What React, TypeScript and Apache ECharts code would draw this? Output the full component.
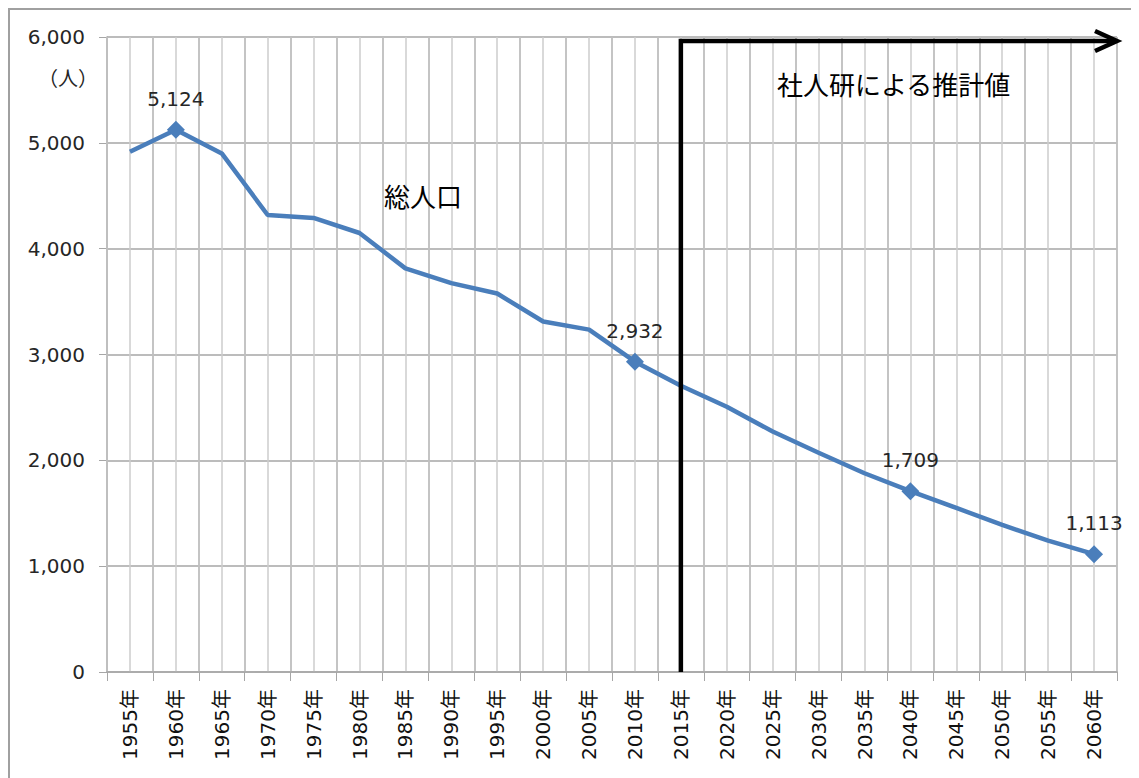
import React, { useEffect, useRef } from "react";
import * as echarts from "echarts";

const years = [
  "1955年", "1960年", "1965年", "1970年", "1975年", "1980年", "1985年", "1990年",
  "1995年", "2000年", "2005年", "2010年", "2015年", "2020年", "2025年", "2030年",
  "2035年", "2040年", "2045年", "2050年", "2055年", "2060年",
];
const population = [
  4915, 5124, 4900, 4318, 4290, 4148, 3814, 3674, 3576, 3312, 3235, 2932,
  2705, 2507, 2272, 2072, 1878, 1709, 1550, 1390, 1242, 1113,
];
const labeledYears = ["1960年", "2010年", "2040年", "2060年"];
const projectionStart = "2015年";
const yMin = 0;
const yMax = 6000;
const yInterval = 1000;
const unitLabel = "（人）";
const seriesLabel = "総人口";
const projectionLabel = "社人研による推計値";

const NUM_FONT = "'DejaVu Sans', 'Noto Sans CJK JP', sans-serif";
const JP_FONT = "'Noto Sans CJK JP', sans-serif";

const fmt = (v: number) => v.toLocaleString("en-US");

export default function App() {
  const ref = useRef<HTMLDivElement>(null);

  useEffect(() => {
    if (!ref.current) return;
    document.documentElement.style.overflow = "hidden";
    const chart = echarts.init(ref.current, null, { renderer: "svg" });
    const data = population.map((v, i) =>
      labeledYears.includes(years[i])
        ? {
            value: v,
            symbol: "diamond",
            symbolSize: 18,
            label: {
              show: true,
              position: "top",
              distance: 12,
              formatter: (p: any) => fmt(p.value),
              fontSize: 20,
              fontFamily: NUM_FONT,
              color: "#262626",
            },
          }
        : { value: v, symbol: "none" }
    );
    chart.setOption({
      animation: false,
      backgroundColor: "#ffffff",
      grid: { left: 97, right: 14, top: 27, bottom: 106, containLabel: false },
      xAxis: [
        {
          type: "category",
          data: years,
          boundaryGap: true,
          axisLine: { show: true, lineStyle: { color: "#a6a6a6", width: 1.5 } },
          axisTick: { show: true, interval: 0, length: 9, lineStyle: { color: "#a6a6a6" } },
          splitLine: { show: true, interval: 0, lineStyle: { color: "#bdbdbd", width: 1.5 } },
          axisLabel: {
            interval: 0,
            rotate: 90,
            margin: 17,
            fontSize: 20,
            fontFamily: NUM_FONT,
            color: "#111111",
          },
          z: 3,
        },
        {
          type: "value",
          min: 0,
          max: 22,
          interval: 0.5,
          position: "bottom",
          axisLine: { show: false },
          axisTick: { show: false },
          axisLabel: { show: false },
          splitLine: { show: true, lineStyle: { color: "#cccccc", width: 1.5 } },
          z: 1,
        },
      ],
      yAxis: {
        type: "value",
        min: yMin,
        max: yMax,
        interval: yInterval,
        axisLine: { show: true, lineStyle: { color: "#a6a6a6", width: 1.5 } },
        axisTick: { show: true, length: 8, lineStyle: { color: "#a6a6a6" } },
        splitLine: { show: true, lineStyle: { color: "#a6a6a6", width: 1.5 } },
        axisLabel: {
          margin: 22,
          fontSize: 20,
          fontFamily: NUM_FONT,
          color: "#262626",
          formatter: (v: number) => fmt(v),
        },
      },
      series: [
        {
          type: "line",
          data,
          xAxisIndex: 0,
          yAxisIndex: 0,
          lineStyle: { color: "#4a7ebb", width: 4.5 },
          itemStyle: { color: "#4a7ebb" },
          z: 5,
        },
      ],
    });

    const xStart = chart.convertToPixel({ xAxisIndex: 0 }, projectionStart) as number;
    const xEnd = chart.convertToPixel({ xAxisIndex: 1 }, 22) as number;
    const yTop = chart.convertToPixel({ yAxisIndex: 0 }, yMax) as number;
    const yBottom = chart.convertToPixel({ yAxisIndex: 0 }, yMin) as number;
    const ay = yTop + 4;

    chart.setOption({
      graphic: [
        {
          type: "polyline",
          z: 100,
          shape: { points: [[xStart, yBottom], [xStart, ay], [xEnd - 2, ay]] },
          style: { stroke: "#000000", lineWidth: 4.5, fill: "none" },
        },
        {
          type: "polyline",
          z: 100,
          shape: { points: [[xEnd - 22, ay - 10], [xEnd, ay], [xEnd - 22, ay + 10]] },
          style: { stroke: "#000000", lineWidth: 4.5, fill: "none", lineJoin: "miter" },
        },
        {
          type: "text",
          z: 100,
          x: 28,
          y: 67,
          style: {
            text: unitLabel,
            fontSize: 20,
            fontFamily: JP_FONT,
            fill: "#262626",
            verticalAlign: "middle",
          },
        },
        {
          type: "text",
          z: 100,
          x: 374,
          y: 185,
          style: {
            text: seriesLabel,
            fontSize: 26,
            fontFamily: JP_FONT,
            fill: "#000000",
            verticalAlign: "middle",
          },
        },
        {
          type: "text",
          z: 100,
          x: 767,
          y: 73,
          style: {
            text: projectionLabel,
            fontSize: 26,
            fontFamily: JP_FONT,
            fill: "#000000",
            verticalAlign: "middle",
          },
        },
      ],
    });

    return () => chart.dispose();
  }, []);

  return (
    <div
      style={{
        borderLeft: "2px solid #a0a0a0",
        borderTop: "2px solid #a0a0a0",
        width: 1121,
        height: 768,
      }}
    >
      <div ref={ref} style={{ width: 1121, height: 768 }} />
    </div>
  );
}
